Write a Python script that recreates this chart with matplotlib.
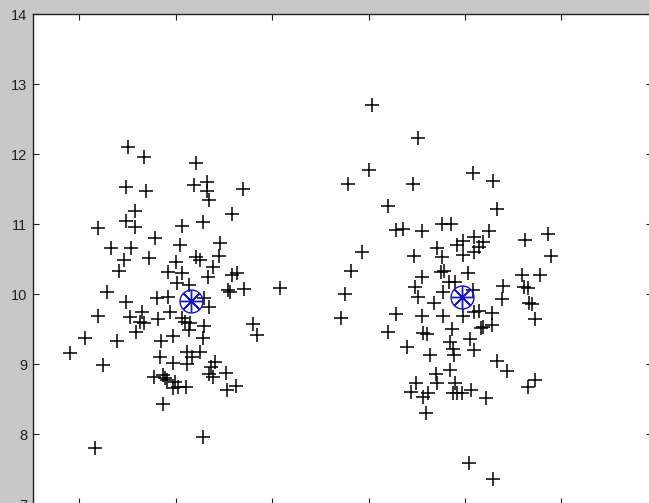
import matplotlib
matplotlib.use("Agg")
import matplotlib.pyplot as plt
import numpy as np

# Cluster 1 samples
x1 = [1.51, 1.67, 2.21, 1.49, 1.69, 2.19, 2.33, 2.33, 2.35, 2.70,
      1.58, 2.59, 1.20, 1.49, 1.58, 2.07, 2.28, 1.79, 2.05, 2.46,
      1.33, 1.54, 1.47, 1.73, 2.01, 2.21, 2.25, 2.45, 2.39, 1.41,
      1.92, 2.07, 2.34, 2.59, 2.64, 2.02, 2.14, 2.54, 2.56, 2.71,
      3.08, 1.29, 1.49, 1.81, 1.92, 2.30, 2.35, 1.20, 1.53, 1.65,
      1.63, 1.67, 1.82, 1.94, 2.07, 2.10, 2.15, 2.14, 2.30, 1.59,
      1.06, 1.39, 1.85, 1.97, 2.28, 2.80, 2.84, 0.91, 1.25, 1.84,
      1.97, 2.12, 2.17, 2.25, 2.12, 2.41, 2.37, 2.35, 2.39, 2.52,
      1.78, 1.87, 1.89, 1.91, 1.99, 1.97, 2.03, 2.11, 2.53, 2.63,
      1.87, 2.28, 1.17]
y1 = [12.10, 11.96, 11.87, 11.53, 11.47, 11.56, 11.60, 11.47, 11.34, 11.50,
      11.19, 11.14, 10.94, 11.04, 10.96, 10.97, 11.03, 10.80, 10.70, 10.73,
      10.66, 10.66, 10.49, 10.51, 10.46, 10.53, 10.49, 10.54, 10.39, 10.33,
      10.31, 10.30, 10.24, 10.27, 10.30, 10.16, 10.13, 10.06, 10.03, 10.07,
      10.09, 10.03, 9.89, 9.94, 9.96, 9.94, 9.81, 9.69, 9.67, 9.74,
      9.60, 9.59, 9.64, 9.74, 9.66, 9.60, 9.59, 9.49, 9.54, 9.46,
      9.37, 9.33, 9.33, 9.40, 9.37, 9.57, 9.41, 9.16, 8.99, 9.10,
      9.01, 9.17, 9.10, 9.17, 9.00, 9.03, 8.96, 8.86, 8.81, 8.87,
      8.81, 8.84, 8.80, 8.77, 8.74, 8.66, 8.67, 8.67, 8.63, 8.69,
      8.43, 7.96, 7.80]

# Cluster 2 samples
x2 = [4.04, 4.51, 4.01, 3.79, 4.46, 5.08, 5.29, 5.33, 4.20, 4.28,
      4.36, 4.55, 4.76, 4.85, 5.25, 5.62, 5.86, 5.89, 3.93, 3.82,
      4.47, 4.71, 4.76, 4.92, 4.98, 4.98, 5.09, 5.09, 5.19, 5.14,
      4.55, 4.48, 4.75, 4.78, 5.03, 4.83, 4.90, 4.77, 5.08, 5.39,
      5.59, 5.78, 5.61, 5.65, 3.76, 3.71, 4.51, 4.68, 5.38, 5.66,
      5.69, 5.73, 4.28, 4.55, 4.77, 4.98, 5.09, 5.14, 5.28, 5.28,
      5.17, 5.19, 4.20, 4.56, 4.61, 4.87, 4.84, 5.05, 4.40, 4.88,
      5.09, 4.64, 4.89, 5.33, 5.44, 4.84, 4.70, 4.71, 4.49, 4.44,
      4.56, 4.62, 4.88, 4.92, 4.90, 4.97, 5.06, 5.22, 5.73, 5.65,
      4.60, 5.04, 5.29]
y2 = [12.70, 12.23, 11.77, 11.57, 11.57, 11.73, 11.61, 11.21, 11.26, 10.91,
      10.93, 10.90, 11.00, 11.00, 10.90, 10.77, 10.86, 10.54, 10.60, 10.33,
      10.54, 10.66, 10.53, 10.70, 10.76, 10.56, 10.81, 10.60, 10.74, 10.67,
      10.24, 10.10, 10.31, 10.33, 10.30, 10.17, 10.17, 10.03, 10.06, 10.11,
      10.27, 10.27, 10.10, 10.09, 10.00, 9.66, 9.96, 9.87, 9.93, 9.87,
      9.86, 9.64, 9.71, 9.69, 9.69, 9.69, 9.74, 9.76, 9.73, 9.56,
      9.51, 9.53, 9.46, 9.44, 9.43, 9.50, 9.31, 9.36, 9.24, 9.21,
      9.20, 9.13, 9.13, 9.04, 8.90, 8.91, 8.86, 8.73, 8.73, 8.60,
      8.53, 8.59, 8.59, 8.59, 8.73, 8.59, 8.63, 8.51, 8.77, 8.67,
      8.30, 7.59, 7.36]

# Cluster centres
cx = [2.16, 4.97]
cy = [9.90, 9.96]

yticks = [7, 8, 9, 10, 11, 12, 13, 14]
xticks = [1, 2, 3, 4, 5, 6]

W, H = 649, 503
fig = plt.figure(figsize=(W / 100, H / 100), dpi=100, facecolor="#c8c8c8")
ax = fig.add_axes([33 / W, (503 - 504) / H, (652 - 33) / W, (504 - 14) / H])
ax.set_facecolor("white")

ax.plot(x1, y1, linestyle="none", marker="+", color="black",
        markersize=10, markeredgewidth=1.1)
ax.plot(x2, y2, linestyle="none", marker="+", color="black",
        markersize=10, markeredgewidth=1.1)

ax.plot(cx, cy, linestyle="none", marker="o", markerfacecolor="none",
        markeredgecolor="#1515c8", markersize=16.5, markeredgewidth=1.0)
ax.plot(cx, cy, linestyle="none", marker=(8, 2, 0), color="#1515c8",
        markersize=16, markeredgewidth=1.0)

ax.set_xlim(0.523, 6.938)
ax.set_ylim(7, 14)
ax.set_xticks(xticks)
ax.set_yticks(yticks)
ax.set_xticklabels([])
ax.tick_params(axis="both", direction="in", length=4.5, width=0.8,
               top=True, right=True, color="#222222")
ax.tick_params(axis="y", labelsize=10.5, pad=4, labelcolor="#222222")
for lab in ax.get_yticklabels():
    lab.set_family(["Liberation Sans", "DejaVu Sans"])
for sp in ax.spines.values():
    sp.set_linewidth(1.0)
    sp.set_color("#222222")

fig.savefig("out.png", dpi=100, facecolor=fig.get_facecolor())
